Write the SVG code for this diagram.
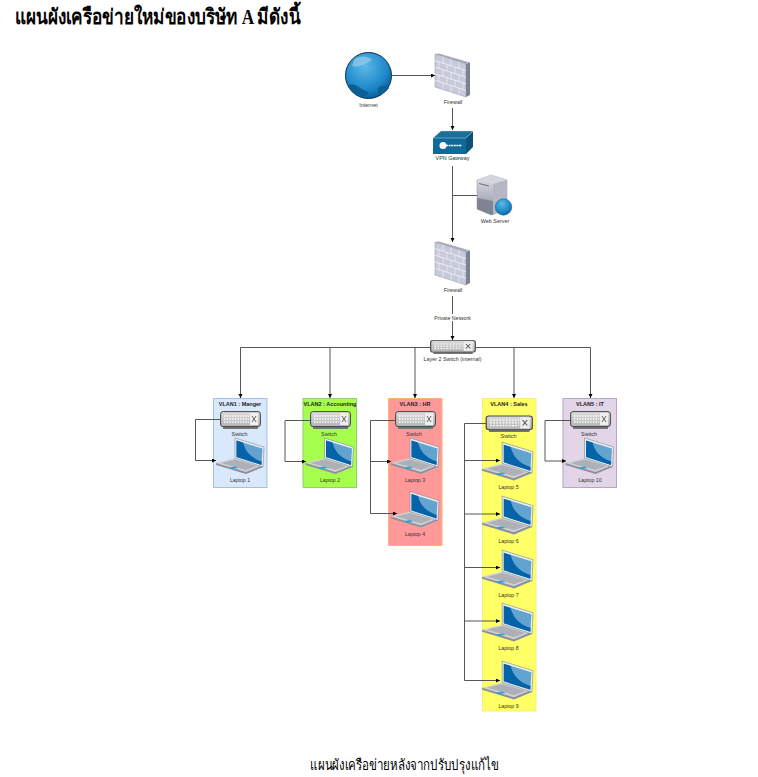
<svg xmlns="http://www.w3.org/2000/svg" width="758" height="777" viewBox="0 0 758 777">
<style>
.l{font-family:"Liberation Sans",Arial,sans-serif;font-size:5.4px;fill:#333;text-anchor:middle}
.p{font-family:"Liberation Sans",Arial,sans-serif;font-size:5.2px;fill:#333;text-anchor:middle}
.v{font-family:"Liberation Sans",Arial,sans-serif;font-size:5.5px;font-weight:bold;fill:#222;text-anchor:middle}
.t{font-family:"Liberation Serif","Noto Sans","Noto Sans CJK SC",serif;fill:#000}
.c{fill:none;stroke:#444;stroke-width:.9;marker-end:url(#a)}
.n{fill:none;stroke:#444;stroke-width:.9}
</style>
<defs>
<marker id="a" markerUnits="userSpaceOnUse" markerWidth="5" markerHeight="5" refX="4" refY="2" orient="auto"><path d="M0 0L4 2L0 4z" fill="#000"/></marker>
<linearGradient id="sw" x1="0" y1="0" x2="0" y2="1"><stop offset="0" stop-color="#dcdcdc"/><stop offset="1" stop-color="#b4b4b4"/></linearGradient>
<radialGradient id="gl" cx=".42" cy=".3" r=".75"><stop offset="0" stop-color="#5cb8e8"/><stop offset=".65" stop-color="#1e88c9"/><stop offset="1" stop-color="#07568f"/></radialGradient>
<linearGradient id="srv" x1="0" y1="0" x2="0" y2="1"><stop offset="0" stop-color="#dfe1ea"/><stop offset="1" stop-color="#8a8e9e"/></linearGradient>
<symbol id="laptop" viewBox="0 0 48 36" overflow="visible">
<path d="M0 25L19 20L47 29L30 36Z" fill="#cfd1d5"/>
<path d="M0 25L30 34L47 27L47 29L30 36L0 27Z" fill="#8d929a"/>
<path d="M5 25L19 21.500L41 28L30 32Z" fill="#adb0b6"/>
<path d="M13 29.500L19 28.500L22 30L16 31Z" fill="#2f9fdc"/>
<path d="M19 0L48 9L47 29L19 20Z" fill="#eef0f3" stroke="#6a7280" stroke-width=".5"/>
<path d="M20.500 2.500L46.500 10.500L45.500 27L20.500 19Z" fill="#62a3cf"/>
<path d="M20.500 2.500L27 4.500C29 12 33 19 45.700 23.500L45.500 27L20.500 19Z" fill="#0463a9"/>
</symbol>
<symbol id="switch" viewBox="0 0 41 18" overflow="visible" preserveAspectRatio="none">
<rect x="3" y="13" width="35" height="5" fill="#777"/>
<rect x=".6" y=".6" width="39.800" height="15" rx="2.500" fill="url(#sw)" stroke="#444" stroke-width="1"/>
<path d="M4 5H29M4 8H29M4 11H29" stroke="#fff" stroke-width="1.300" stroke-dasharray="1.400 1.300"/>
<rect x="30" y="2" width="8" height="12" fill="#eee"/>
<path d="M32 5L36 11M36 5L32 11" stroke="#555" stroke-width=".9"/>
</symbol>
<symbol id="firewall" viewBox="0 0 35 43" overflow="visible">
<path d="M31 10L35 8.500V41L31 43Z" fill="#7c8090"/>
<path d="M0 0L4 -.5L35 8.500L31 10Z" fill="#a8abb8"/>
<path d="M0 0L31 10V43L0 33Z" fill="#c7cadb" stroke="#8e92a3" stroke-width=".5"/>
<path d="M0 6.600L31 16.600M0 13.200L31 23.200M0 19.800L31 29.800M0 26.400L31 36.400" stroke="#f1f2f7" stroke-width=".8" fill="none"/>
<path d="M8 2.600V9.200M16 5.200V11.800M24 7.700V14.300M4 7.900V14.500M12 10.500V17.100M20 13V19.600M28 15.600V22.200M8 15.800V22.400M16 18.400V25M24 21V27.600M4 20.800V27.400M12 23.400V30M20 26V32.600M28 28.600V35.200M8 29V35.600M16 31.600V38.200M24 34V40.600" stroke="#f1f2f7" stroke-width=".7" fill="none"/>
</symbol>
</defs>
<rect width="758" height="777" fill="#fff"/>
<text class="t" x="15" y="24" font-size="21" font-weight="bold" id="title" textLength="285" lengthAdjust="spacingAndGlyphs">แผนผังเครือข่ายใหม่ของบริษัท A มีดังนี้</text>
<text class="t" x="310" y="770" font-size="15" id="caption" textLength="189" lengthAdjust="spacingAndGlyphs">แผนผังเครือข่ายหลังจากปรับปรุงแก้ไข</text>

<g id="vlan-boxes">
<g id="vlan1"><rect x="213.500" y="398.500" width="53.500" height="89" fill="#dae8fc" stroke="#a3bfe3"/><text class="v" x="240" y="406">VLAN1 : Manger</text></g>
<g id="vlan2"><rect x="303" y="398.500" width="53.500" height="89" fill="#a6ff4d" stroke="#93cf6a"/><text class="v" x="330" y="406">VLAN2 : Accounting</text></g>
<g id="vlan3"><rect x="388.500" y="398.500" width="53.500" height="147" fill="#ff9999" stroke="#ffb570"/><text class="v" x="415" y="406">VLAN3 : HR</text></g>
<g id="vlan4"><rect x="482.500" y="398.500" width="53.500" height="312.500" fill="#ffff66" stroke="#f5f07a"/><text class="v" x="509" y="406">VLAN4 : Sales</text></g>
<g id="vlan5"><rect x="563" y="398.500" width="53.500" height="89" fill="#e1d5e7" stroke="#b9a3c8"/><text class="v" x="590" y="406">VLAN5 : IT</text></g>
</g>

<g id="connectors">
<path class="c" d="M392 75.500H435"/>
<path class="c" d="M452.500 108V130"/>
<path class="c" d="M452.500 166V242"/>
<path class="n" d="M452.500 195.500H477"/>
<path class="c" d="M452.500 296V340"/>
<path class="n" d="M430 347.500H240.500"/>
<path class="c" d="M240.500 347.500V398"/>
<path class="c" d="M330 347.500V398"/>
<path class="c" d="M415 347.500V398"/>
<path class="n" d="M476 347.500H590.500"/>
<path class="c" d="M514 347.500V398"/>
<path class="c" d="M590.500 347.500V398"/>
<path class="c" d="M220 419.500H195.500V460.500H216"/>
<path class="c" d="M310 420.500H285V461.500H306"/>
<path class="c" d="M395 420.500H370.500V513.500H397"/>
<path class="c" d="M370.500 461.500H391"/>
<path class="c" d="M486 423.500H464.500V680.500H500"/>
<path class="c" d="M464.500 460.500H500"/>
<path class="c" d="M464.500 514H500"/>
<path class="c" d="M464.500 567.500H500"/>
<path class="c" d="M464.500 621H500"/>
<path class="c" d="M570 420.500H545V461H566"/>
</g>

<g id="private-network-label"><rect x="434" y="314" width="37" height="7" fill="#fff"/><text class="p" x="452.500" y="320">Private Network</text></g>

<g id="internet">
<circle cx="368.500" cy="75.500" r="23" fill="url(#gl)" stroke="#0c2f4d" stroke-width="1"/>
<path d="M354 60C360 55 368 56 372 60C366 64 358 68 352 66Z" fill="#8fc9e8" opacity=".8"/>
<path d="M348 85C356 82 360 90 368 92C372 95 360 98 356 95C352 92 349 89 348 85ZM378 88C384 84 388 86 389 88C386 92 382 95 378 95Z" fill="#0c5f96"/>
<text class="l" x="368.500" y="107">Internet</text>
</g>
<g id="firewall1"><use href="#firewall" x="435" y="54" width="35" height="43"/><text class="l" x="453" y="104">Firewall</text></g>
<g id="vpn">
<path d="M433 138L441 131H473L466 138Z" fill="#1b6f99"/>
<path d="M466 138L473 131V147L466 154Z" fill="#0d5278"/>
<rect x="433" y="138" width="33" height="16" fill="#0f6a99"/>
<path d="M441 131H473L466 138H433Z" fill="none" stroke="#cfe3ee" stroke-width=".4"/>
<circle cx="443" cy="145.500" r="3.500" fill="#fff"/>
<path d="M446 145.500H462" stroke="#fff" stroke-width="1.600" stroke-dasharray="2 .6"/>
<text class="l" x="452.500" y="160">VPN Gateway</text>
</g>
<g id="web-server">
<path d="M477 180L491 175L507 180V209L491 215L477 209Z" fill="url(#srv)" stroke="#7a7f8e" stroke-width=".4"/>
<path d="M477 180L491 175L507 180L493 184Z" fill="#d5d7e0"/>
<path d="M493 184V215L507 209V180Z" fill="#b4b7c4"/>
<path d="M477 198L493 201V215L477 209Z" fill="#7f8393"/>
<path d="M479 183.500L489 186" stroke="#444" stroke-width=".7"/>
<circle cx="503.500" cy="207" r="8.300" fill="url(#gl)" stroke="#0c4a75" stroke-width=".4"/>
<text class="l" x="495" y="223">Web Server</text>
</g>
<g id="firewall2"><use href="#firewall" x="435" y="242" width="35" height="43"/><text class="l" x="453" y="291.500">Firewall</text></g>
<g id="core-switch"><use href="#switch" x="430" y="340" width="46" height="14"/><text class="l" x="452.500" y="361">Layer 2 Switch (internal)</text></g>

<g id="switch1"><use href="#switch" x="220" y="411" width="41" height="18"/><text class="l" x="239.500" y="435.500">Switch</text></g>
<g id="switch2"><use href="#switch" x="310" y="411" width="41" height="18"/><text class="l" x="329" y="435.500">Switch</text></g>
<g id="switch3"><use href="#switch" x="395" y="411" width="41" height="18"/><text class="l" x="414" y="435.500">Switch</text></g>
<g id="switch4"><use href="#switch" x="485.500" y="415.500" width="47.500" height="16.500"/><text class="l" x="508.500" y="438">Switch</text></g>
<g id="switch5"><use href="#switch" x="570" y="411" width="41" height="18"/><text class="l" x="589" y="435.500">Switch</text></g>

<g id="laptop1"><use href="#laptop" x="216" y="438" width="48" height="36"/><text class="p" x="240" y="482">Laptop 1</text></g>
<g id="laptop2"><use href="#laptop" x="305.500" y="438" width="48" height="36"/><text class="p" x="330" y="482">Laptop 2</text></g>
<g id="laptop3"><use href="#laptop" x="391" y="438" width="48" height="36"/><text class="p" x="415" y="482">Laptop 3</text></g>
<g id="laptop4"><use href="#laptop" x="391" y="491.500" width="48" height="36"/><text class="p" x="415" y="535.500">Laptop 4</text></g>
<g id="laptop5"><use href="#laptop" x="482" y="442" width="51" height="38.500"/><text class="p" x="508.500" y="489">Laptop 5</text></g>
<g id="laptop6"><use href="#laptop" x="482" y="496" width="51" height="38.500"/><text class="p" x="508.500" y="542.500">Laptop 6</text></g>
<g id="laptop7"><use href="#laptop" x="482" y="550" width="51" height="38.500"/><text class="p" x="508.500" y="596.500">Laptop 7</text></g>
<g id="laptop8"><use href="#laptop" x="482" y="603" width="51" height="38.500"/><text class="p" x="508.500" y="649.500">Laptop 8</text></g>
<g id="laptop9"><use href="#laptop" x="482" y="661" width="51" height="38.500"/><text class="p" x="508.500" y="707.500">Laptop 9</text></g>
<g id="laptop10"><use href="#laptop" x="565.500" y="438" width="48" height="36"/><text class="p" x="590" y="482">Laptop 10</text></g>
</svg>
